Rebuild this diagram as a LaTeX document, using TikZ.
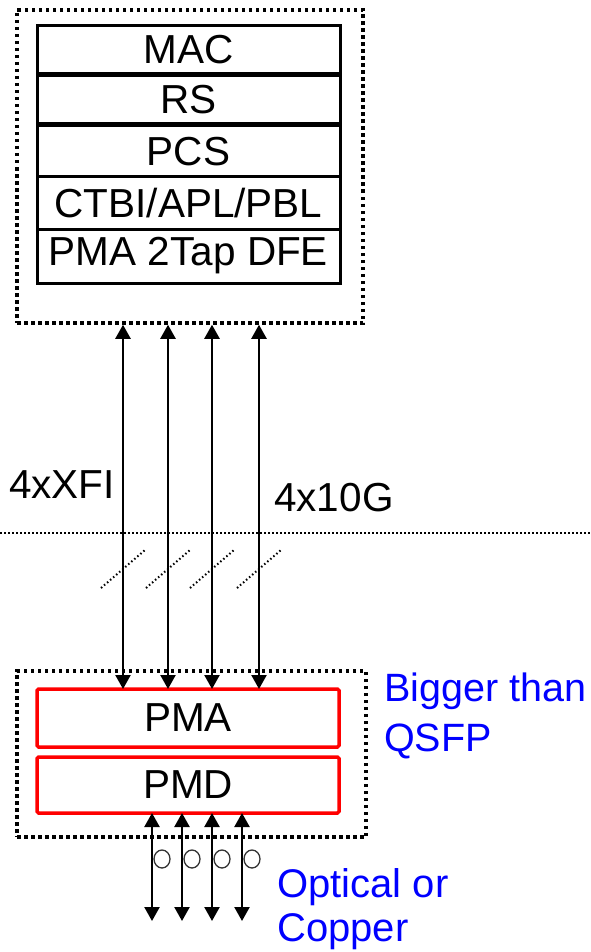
\documentclass[tikz,border=0pt]{standalone}
\usepackage{fontspec}
\setmainfont{Liberation Sans}
\usetikzlibrary{arrows.meta,positioning}
\begin{document}
\begin{tikzpicture}[x=1pt, y=-1pt, every node/.style={font=\fontsize{40.5}{47}\selectfont},
  layer/.style={draw, line width=3pt, minimum width=303pt, inner sep=0pt, outer sep=0pt},
  phy/.style={draw=red, line width=3.5pt, rounded corners=1.5pt, minimum width=302pt, inner sep=0pt, outer sep=0pt},
  frame/.style={draw, line width=3.5pt, dash pattern=on 3.5pt off 3.5pt, inner sep=0pt},
  link/.style={line width=2.3pt, {Triangle[width=15pt,length=14pt]}-{Triangle[width=15pt,length=14pt]}},
  slash/.style={line width=2pt, dash pattern=on 1.5pt off 2.5pt},
  divider/.style={line width=1.6pt, dash pattern=on 2pt off 2pt},
  coil/.style={line width=1.3pt, black!80},
  note/.style={text=blue, align=left, inner sep=0pt, anchor=base west}]
\useasboundingbox (0,0) rectangle (590,952);
\node[frame, minimum width=346pt, minimum height=313pt] (host) at (190,166.5) {};
\node[layer, minimum height=48pt, anchor=north] (mac) at (188.5,26) {MAC};
\node[layer, minimum height=48pt, below=2pt of mac] (rs) {RS};
\node[layer, minimum height=51pt, below=2pt of rs] (pcs) {PCS};
\node[layer, minimum height=52pt, below=0pt of pcs] (ctbi) {CTBI/APL/PBL};
\node[layer, minimum height=54pt, below=0pt of ctbi] (dfe) {PMA 2Tap DFE};

\node[frame, minimum width=349pt, minimum height=166pt] (module) at (191.5,754) {};
\node[phy, minimum height=58pt] (pma) at (188,718) {PMA};
\node[phy, minimum height=56pt, below=10pt of pma] (pmd) {PMD};

\node[inner sep=0pt, anchor=base west] (xfi) at (9,498) {4xXFI};
\node[inner sep=0pt, anchor=base west] (tenG) at (274,511) {4x10G};
\node[note, font=\fontsize{39.5}{50}\selectfont] (size) at (384,751) {Bigger than\\QSFP};
\node[note, font=\fontsize{40}{44}\selectfont] (media) at (277,941) {Optical or\\Copper};

\coordinate (cutL) at (0,533);
\coordinate (cutR) at (590,533);
\draw[divider] (cutL) -- (cutR);

\foreach \x [count=\i] in {123,168,212,259} {
  \coordinate (t\i) at (\x,0);
  \coordinate (s\i) at (\x,569);
  \draw[link] (t\i |- host.south) -- (t\i |- pma.north);
  \draw[slash] ([shift={(-22,19)}]s\i) -- ([shift={(22,-19)}]s\i);
}
\foreach \x [count=\i] in {152,182,212,242} {
  \coordinate (b\i) at (\x,921);
  \coordinate (c\i) at (\x+10,859);
  \draw[link] (b\i |- pmd.south) -- (b\i);
  \draw[coil] (c\i) ellipse [x radius=8pt, y radius=9pt];
}
\end{tikzpicture}
\end{document}
